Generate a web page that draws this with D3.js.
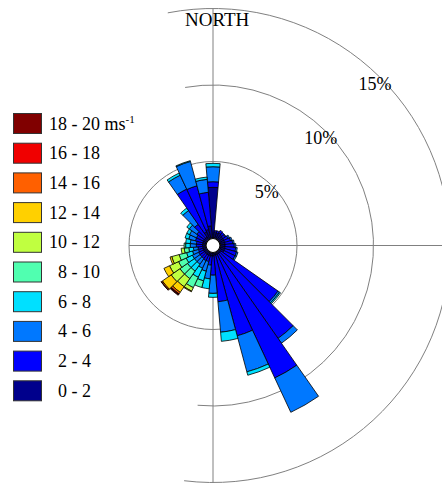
<!DOCTYPE html>
<html>
<head>
<meta charset="utf-8">
<script src="https://cdn.jsdelivr.net/npm/d3@7"></script>
<style>
  html, body { margin: 0; padding: 0; background: #fff; }
  svg { display: block; }
</style>
</head>
<body>
<svg id="rose" width="442" height="483"></svg>
<script>
// Wind directions (bearing of sector centre, degrees clockwise from north)
const directions = d3.range(0, 360, 10);

// Wind speed classes, lowest first
const speedBins = ["0 - 2", "2 - 4", "4 - 6", "6 - 8", "8 - 10",
                   "10 - 12", "12 - 14", "14 - 16", "16 - 18", "18 - 20"];
const binColors = ["#00008c", "#0000ff", "#0078ff", "#00e0ff", "#50ffb0",
                   "#c0ff40", "#ffd000", "#ff6000", "#f00000", "#800000"];

// Frequency (%) of each speed class per direction, 0°,10°,...,350°
const freq0_2   = [3.31,0.40,0.35,0.40,0.35,0.30,0.30,0.30,0.30,0.30,0.30,0.30,0.30,0.15,0.15,0.15,0.15,0.15,
                   0.20,0.20,0.20,0.20,0.20,0.20,0.20,0.20,0.20,0.20,0.20,0.20,0.20,0.20,0.20,0.50,0.60,0.80];
const freq2_4   = [0.37,0.10,0.15,0.20,0.20,0.20,0.30,0.40,0.50,0.60,0.70,0.80,0.80,4.55,6.77,8.91,5.47,3.05,
                   1.25,0.60,0.40,0.40,0.35,0.35,0.35,0.30,0.30,0.40,0.40,0.50,0.50,0.60,1.00,3.08,2.95,2.20];
const freq4_6   = [0.98,0,0,0,0,0.05,0.10,0.10,0.10,0.10,0.10,0.10,0.10,0.12,0.39,2.48,2.44,2.00,
                   1.19,0.90,0.65,0.55,0.45,0.45,0.45,0.40,0.30,0.40,0.40,0.45,0.50,0.60,1.10,1.00,1.65,0.85];
const freq6_8   = [0.22,0,0,0,0,0,0,0,0,0,0,0,0,0.08,0,0,0.23,0.60,
                   0.26,0.65,0.65,0.65,0.55,0.55,0.45,0.40,0.30,0.30,0.30,0.25,0.20,0.20,0.20,0.16,0.05,0.15];
const freq8_10  = [0,0,0,0,0,0,0,0,0,0,0,0,0,0,0,0,0,0,
                   0,0,0.45,0.75,0.60,0.60,0.55,0.50,0.30,0.10,0,0,0,0,0,0,0,0];
const freq10_12 = [0,0,0,0,0,0,0,0,0,0,0,0,0,0,0,0,0,0,
                   0,0,0,0.25,0.65,0.70,0.65,0.50,0.20,0,0,0,0,0,0,0,0,0];
const freq12_14 = [0,0,0,0,0,0,0,0,0,0,0,0,0,0,0,0,0,0,
                   0,0,0,0.05,0.45,0.70,0.40,0.12,0,0,0,0,0,0,0,0,0,0];
const freq14_16 = [0,0,0,0,0,0,0,0,0,0,0,0,0,0,0,0,0,0,
                   0,0,0,0,0.12,0.08,0,0,0,0,0,0,0,0,0,0,0,0];
const freq16_18 = [0,0,0,0,0,0,0,0,0,0,0,0,0,0,0,0,0,0,
                   0,0,0,0,0.05,0.02,0,0,0,0,0,0,0,0,0,0,0,0];
const freq18_20 = [0,0,0,0,0,0,0,0,0,0,0,0,0,0,0,0,0,0,
                   0,0,0,0,0.06,0,0,0,0,0,0,0,0,0,0,0,0,0];
const freqByBin = [freq0_2, freq2_4, freq4_6, freq6_8, freq8_10,
                   freq10_12, freq12_14, freq14_16, freq16_18, freq18_20];

// Reference rings (%)
const ringValues = [5, 10, 15];
const ringLabels = ["5%", "10%", "15%"];

const serif = '"Liberation Serif", "Times New Roman", Tinos, serif';
const svg = d3.select("#rose").style("font-family", serif);
const W = 442, H = 483;
const cx = 213, cy = 245.5;
const rad = Math.PI / 180;

// Radial scale: % frequency -> pixels, with a small calm hole in the middle
const r = d3.scaleLinear().domain([0, 15]).range([7.5, 237]);

svg.append("rect").attr("width", W).attr("height", H).attr("fill", "#fff");

const g = svg.append("g").attr("transform", `translate(${cx},${cy})`);
const grid = g.append("g").attr("fill", "none").attr("stroke", "#808080").attr("stroke-width", 1);

// Cross-hair axes
grid.append("line").attr("x1", -r(5)).attr("x2", W - cx).attr("y1", 0).attr("y2", 0);
grid.append("line").attr("x1", 0).attr("x2", 0).attr("y1", -r(15)).attr("y2", H - cy);

// Reference rings (outer ones only partially drawn on the left side)
const ringSpan = [[0, 360], [-10, 185.5], [-11, 187]];
ringValues.forEach((v, i) => {
  const p = d3.path();
  const a0 = (ringSpan[i][0] - 90) * rad, a1 = (ringSpan[i][1] - 90) * rad;
  p.moveTo(r(v) * Math.cos(a0), r(v) * Math.sin(a0));
  p.arc(0, 0, r(v), a0, a1, false);
  grid.append("path").attr("d", p.toString());
});

// Stacked sectors
const half = 5 * rad;
const arc = d3.arc();
const bars = g.append("g").attr("stroke", "#000").attr("stroke-width", 0.8).attr("stroke-linejoin", "miter");
directions.forEach((dir, di) => {
  let cum = 0;
  freqByBin.forEach((series, bi) => {
    const v = series[di];
    if (!v) return;
    const inner = cum, outer = cum + v;
    cum = outer;
    bars.append("path")
      .attr("d", arc({
        innerRadius: r(inner), outerRadius: r(outer),
        startAngle: dir * rad - half, endAngle: dir * rad + half
      }))
      .attr("fill", binColors[bi]);
  });
});

// Calm hole
g.append("circle").attr("r", r(0) - 0.5).attr("fill", "#fff").attr("stroke", "#000").attr("stroke-width", 1.2);

// Ring labels along the north-east diagonal
ringValues.forEach((v, i) => {
  const d = r(v) - 8;
  g.append("text")
    .attr("x", d * Math.SQRT1_2)
    .attr("y", -d * Math.SQRT1_2 + 6)
    .attr("text-anchor", "middle")
    .attr("font-family", serif)
    .attr("font-size", 18)
    .text(ringLabels[i]);
});

svg.append("text").attr("x", 185).attr("y", 26)
  .attr("font-family", serif).attr("font-size", 19).text("NORTH");

// Legend, highest speed class on top
const legend = svg.append("g");
const order = d3.range(speedBins.length).reverse();
order.forEach((bi, k) => {
  const y = 113 + k * 29.7;
  legend.append("rect")
    .attr("x", 13.5).attr("y", y + 0.5).attr("width", 28).attr("height", 20)
    .attr("fill", binColors[bi]).attr("stroke", "#333").attr("stroke-width", 1);
  const label = speedBins[bi];
  const lowVal = +label.split(" - ")[0];
  const t = legend.append("text")
    .attr("x", lowVal < 10 ? 58 : 49)
    .attr("y", y + 16.5)
    .attr("font-family", serif)
    .attr("font-size", 18)
    .text(label);
  if (k === 0) {
    t.append("tspan").text(" ms");
    t.append("tspan").attr("font-size", 11).attr("dy", -7).text("-1");
  }
});
</script>
</body>
</html>
